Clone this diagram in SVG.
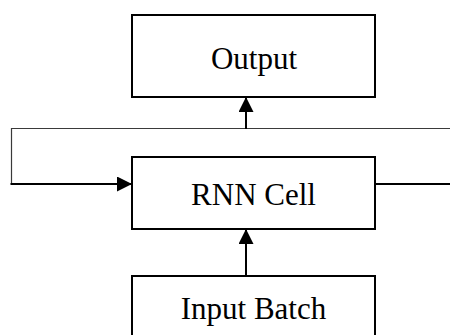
<svg xmlns="http://www.w3.org/2000/svg" width="450" height="335" viewBox="0 0 450 335">
  <style>
    .box { fill: #ffffff; stroke: #000000; stroke-width: 2; }
    .label { font-family: "Liberation Serif", "Times New Roman", serif; font-size: 31px; fill: #000000; text-anchor: middle; }
    .wire { fill: none; stroke: #000000; stroke-width: 2; }
    .thin { fill: none; stroke: #3a3a3a; stroke-width: 1.2; }
  </style>
  <defs>
    <marker id="arrow" viewBox="0 0 10 10" refX="10" refY="5" markerWidth="15" markerHeight="15" markerUnits="userSpaceOnUse" orient="auto">
      <path d="M0,0 L10,5 L0,10 Z" fill="#000000"/>
    </marker>
  </defs>
  <rect width="450" height="335" fill="#ffffff"/>

  <g id="connectors">
    <!-- recurrent loop: right side of cell out, across the top, back in on the left -->
    <path class="wire" d="M375,184 H450"/>
    <path class="thin" d="M450,128.5 H11.5 V184"/>
    <path class="wire" d="M10.5,184 H132" marker-end="url(#arrow)"/>
    <!-- cell to output -->
    <path class="wire" d="M246,129 V97" marker-end="url(#arrow)"/>
    <!-- input to cell -->
    <path class="wire" d="M246,276 V229" marker-end="url(#arrow)"/>
  </g>

  <g id="output">
    <rect class="box" x="132" y="15" width="243" height="82"/>
    <text class="label" x="254" y="68.5">Output</text>
  </g>

  <g id="rnn-cell">
    <rect class="box" x="132" y="157" width="243" height="72"/>
    <text class="label" x="253.5" y="205">RNN Cell</text>
  </g>

  <g id="input-batch">
    <rect class="box" x="132" y="276" width="243" height="70"/>
    <text class="label" x="253.5" y="319">Input Batch</text>
  </g>
</svg>
